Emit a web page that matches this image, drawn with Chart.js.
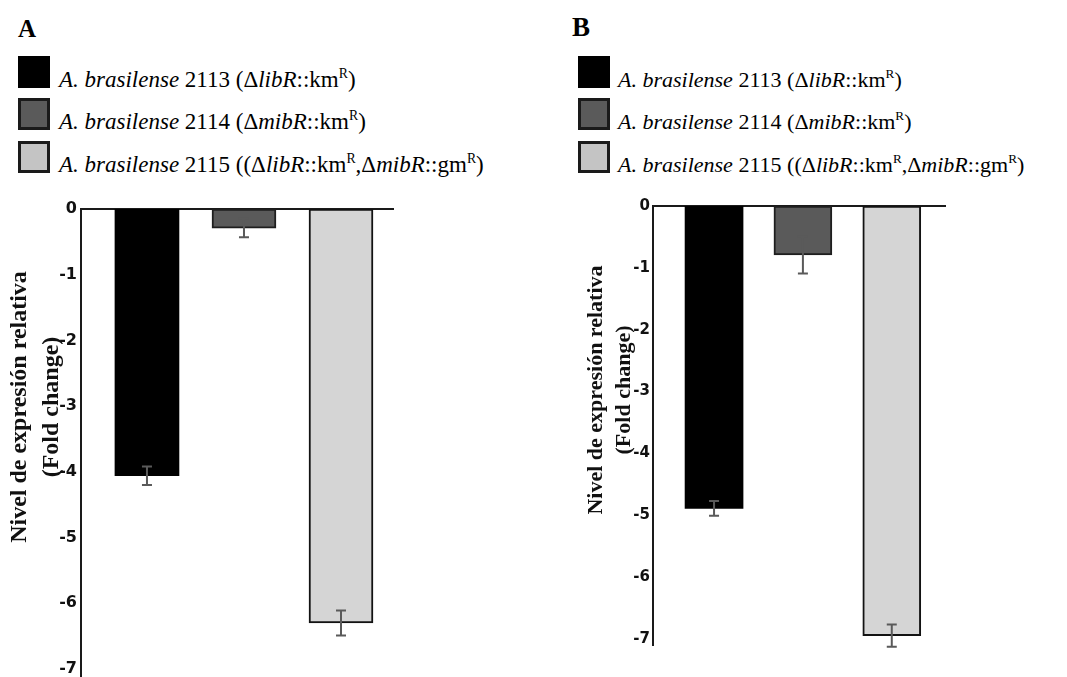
<!DOCTYPE html>
<html>
<head>
<meta charset="utf-8">
<script src="https://cdn.jsdelivr.net/npm/chart.js@4/dist/chart.umd.min.js"></script>
<style>
  html, body { margin: 0; padding: 0; background: #fff; }
  body { width: 1067px; height: 677px; position: relative; overflow: hidden; }
  canvas { position: absolute; }
  .panel-letter { position: absolute; font-family: "Liberation Serif", "Times New Roman", serif; font-weight: bold; color: #000; line-height: 1; }
  .swatch { position: absolute; width: 32px; height: 32px; box-sizing: border-box; }
  .entry { position: absolute; font-family: "Liberation Serif", "Times New Roman", serif; color: #000; white-space: nowrap; line-height: 1; }
  .entry sup { font-size: 0.6em; vertical-align: 0; position: relative; top: -0.62em; }
</style>
</head>
<body>
<canvas id="chartA" width="430" height="487" style="left:0;top:190px"></canvas>
<canvas id="chartB" width="527" height="487" style="left:540px;top:190px"></canvas>

<script>
// Strains shown in both panels
const categories = ['2113', '2114', '2115'];
const species = 'A. brasilense';
const genotypes = [
  '(Δ<i>libR</i>::km<sup>R</sup>)',
  '(Δ<i>mibR</i>::km<sup>R</sup>)',
  '((Δ<i>libR</i>::km<sup>R</sup>,Δ<i>mibR</i>::gm<sup>R</sup>)'
];

// Relative expression (fold change) and standard error, panel A
const valuesA = [-4.06, -0.29, -6.30];
const errorsA = [0.14, 0.14, 0.19];
// Relative expression (fold change) and standard error, panel B
const valuesB = [-4.89, -0.79, -6.95];
const errorsB = [0.12, 0.30, 0.18];

// Y axis tick labels
const tickValues = [0, -1, -2, -3, -4, -5, -6, -7];
const yTitleLines = ['Nivel de expresión relativa', '(Fold change)'];

const fills = ['#000000', '#5a5a5a', '#d5d5d5'];
const borders = ['#000000', '#1e1e1e', '#121212'];
const swatchFills = ['#000000', '#5a5a5a', '#c4c4c4'];

// Legend and panel letters
function buildLegend(letter, o) {
  const L = document.createElement('div');
  L.className = 'panel-letter';
  L.textContent = letter;
  L.style.left = o.letterX + 'px';
  L.style.top = o.letterY + 'px';
  L.style.fontSize = o.letterSize + 'px';
  document.body.appendChild(L);
  const rowTops = [56, 98, 141];
  categories.forEach((c, i) => {
    const sw = document.createElement('div');
    sw.className = 'swatch';
    sw.style.left = o.swX + 'px';
    sw.style.top = rowTops[i] + 'px';
    sw.style.background = swatchFills[i];
    sw.style.border = i === 0 ? 'none' : '3px solid #1a1a1a';
    document.body.appendChild(sw);
    const t = document.createElement('div');
    t.className = 'entry';
    t.style.fontSize = o.fontSize + 'px';
    t.style.left = o.textX + 'px';
    // place baseline close to the swatch bottom
    t.style.top = (rowTops[i] + 31 - 0.837 * o.fontSize) + 'px';
    t.innerHTML = '<i>' + species + '</i> ' + c + ' ' + genotypes[i];
    document.body.appendChild(t);
  });
}
buildLegend('A', { letterX: 18, letterY: 16, letterSize: 25, swX: 18, textX: 59, fontSize: 23 });
buildLegend('B', { letterX: 572, letterY: 14, letterSize: 27, swX: 578, textX: 618, fontSize: 22 });

// Error bars drawn over the bars
const errorBars = {
  id: 'errorBars',
  afterDatasetsDraw(chart, args, opts) {
    const { ctx, scales: { x, y } } = chart;
    const vals = chart.data.datasets[0].data;
    ctx.save();
    ctx.strokeStyle = '#5a5a5a';
    ctx.lineWidth = 2;
    vals.forEach((p, i) => {
      const e = opts.errors[i];
      const px = x.getPixelForValue(p.x);
      const y1 = y.getPixelForValue(p.y + e);
      const y2 = y.getPixelForValue(p.y - e);
      ctx.beginPath();
      ctx.moveTo(px, y1); ctx.lineTo(px, y2);
      ctx.moveTo(px - opts.cap, y1); ctx.lineTo(px + opts.cap, y1);
      ctx.moveTo(px - opts.cap, y2); ctx.lineTo(px + opts.cap, y2);
      ctx.stroke();
    });
    ctx.restore();
  }
};

// Two-line rotated y axis title
const yTitle = {
  id: 'yTitle',
  afterDraw(chart, args, opts) {
    const { ctx } = chart;
    ctx.save();
    ctx.font = 'bold ' + opts.size + 'px "Liberation Serif", "Times New Roman", serif';
    ctx.fillStyle = '#111';
    ctx.textAlign = 'center';
    ctx.textBaseline = 'middle';
    yTitleLines.forEach((line, i) => {
      ctx.save();
      ctx.translate(opts.xs[i], opts.cy);
      ctx.rotate(-Math.PI / 2);
      ctx.fillText(line, 0, 0);
      ctx.restore();
    });
    ctx.restore();
  }
};

function makeChart(id, values, errors, o) {
  const canvas = document.getElementById(id);
  return new Chart(canvas, {
    type: 'bar',
    data: {
      datasets: [{
        data: values.map((v, i) => ({ x: i + 1, y: v })),
        backgroundColor: fills,
        borderColor: borders,
        borderWidth: [0, 2, 2],
        borderSkipped: false,
        barThickness: o.barW
      }]
    },
    options: {
      responsive: false,
      animation: false,
      devicePixelRatio: 1,
      layout: { padding: { left: 0, top: 0, right: canvas.width - o.right, bottom: canvas.height - o.bottom } },
      plugins: {
        legend: { display: false },
        tooltip: { enabled: false },
        errorBars: { errors: errors, cap: 5 },
        yTitle: { size: o.titleSize, xs: o.titleXs, cy: o.titleY }
      },
      scales: {
        x: {
          type: 'linear',
          position: 'top',
          offset: false,
          min: o.xMin, max: o.xMax,
          grid: { display: false, drawTicks: false, offset: false },
          ticks: { display: false },
          border: { display: true, color: '#1a1a1a', width: 2 },
          afterFit(s) { s.height = o.top; s.paddingLeft = 0; s.paddingRight = 0; }
        },
        y: {
          min: o.yMin, max: 0,
          grid: { display: false, drawTicks: false },
          border: { display: true, color: '#1a1a1a', width: 2 },
          afterBuildTicks(s) { s.ticks = tickValues.map(v => ({ value: v })); },
          ticks: {
            color: '#111',
            padding: o.tickPad,
            font: { family: '"DejaVu Sans", Verdana, sans-serif', weight: 'bold', size: o.tickSize },
            callback: v => String(v)
          },
          afterFit(s) { s.width = o.left; s.paddingTop = 0; s.paddingBottom = 0; }
        }
      }
    },
    plugins: [errorBars, yTitle]
  });
}

makeChart('chartA', valuesA, errorsA, {
  left: 81, top: 19, right: 393, bottom: 487,
  xMin: 0.32, xMax: 3.536, yMin: -7.123, barW: 64,
  tickSize: 16, tickPad: 4,
  titleSize: 24, titleXs: [20, 52], titleY: 217
});
makeChart('chartB', valuesB, errorsB, {
  left: 113, top: 16, right: 405, bottom: 455,
  xMin: 0.313, xMax: 3.599, yMin: -7.10, barW: 58,
  tickSize: 15, tickPad: 3,
  titleSize: 22, titleXs: [56, 84], titleY: 200
});
</script>
</body>
</html>
